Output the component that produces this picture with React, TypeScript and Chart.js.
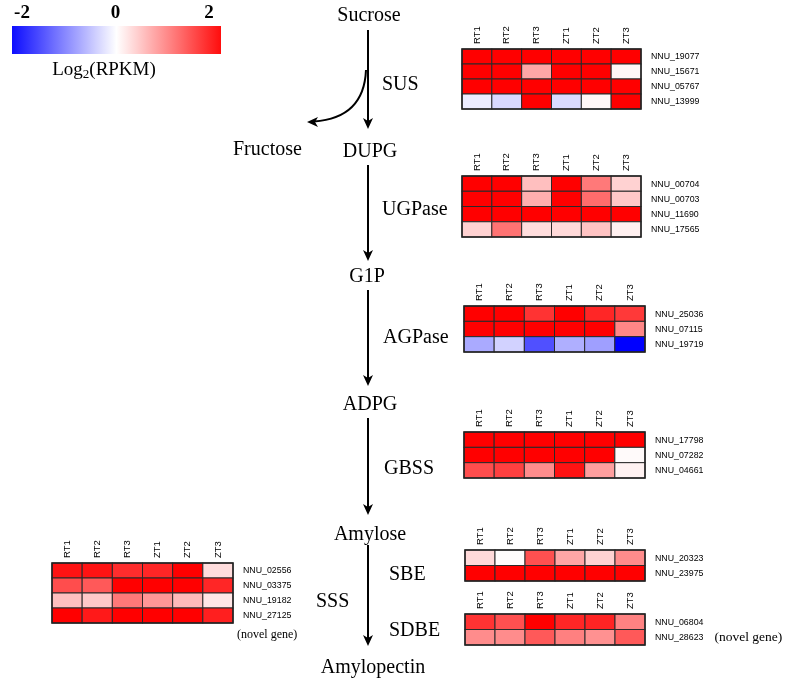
import React, { useEffect, useRef } from 'react';
import { Chart, registerables } from 'chart.js';
Chart.register(...registerables);

// ---------- data ----------
const SAMPLES = ['RT1', 'RT2', 'RT3', 'ZT1', 'ZT2', 'ZT3'];

const SUS_GENES = ['NNU_19077', 'NNU_15671', 'NNU_05767', 'NNU_13999'];
const SUS_VALUES = [
  [2.6, 2.5, 2.4, 2.6, 2.5, 2.3],
  [2.4, 2.5, 0.7, 2.4, 2.3, 0.06],
  [2.5, 2.4, 2.3, 2.4, 2.4, 2.2],
  [-0.15, -0.3, 2.2, -0.28, 0.06, 2.3],
];

const UGP_GENES = ['NNU_00704', 'NNU_00703', 'NNU_11690', 'NNU_17565'];
const UGP_VALUES = [
  [2.4, 2.3, 0.5, 2.3, 1.05, 0.35],
  [2.3, 2.3, 0.63, 2.3, 1.15, 0.43],
  [2.6, 2.5, 2.4, 2.5, 2.4, 2.3],
  [0.35, 1.1, 0.27, 0.3, 0.47, 0.12],
];

const AGP_GENES = ['NNU_25036', 'NNU_07115', 'NNU_19719'];
const AGP_VALUES = [
  [2.3, 2.2, 1.6, 2.2, 1.7, 1.55],
  [2.4, 2.3, 2.1, 2.2, 2.1, 0.94],
  [-0.67, -0.35, -1.37, -0.63, -0.75, -2.1],
];

const GBSS_GENES = ['NNU_17798', 'NNU_07282', 'NNU_04661'];
const GBSS_VALUES = [
  [2.5, 2.4, 2.4, 2.4, 2.3, 2.2],
  [2.3, 2.2, 2.2, 2.2, 2.1, 0.04],
  [1.4, 1.5, 0.9, 1.85, 0.75, 0.1],
];

const SBE_GENES = ['NNU_20323', 'NNU_23975'];
const SBE_VALUES = [
  [0.3, 0.02, 1.37, 0.7, 0.35, 0.9],
  [2.3, 2.2, 2.1, 2.2, 2.2, 2.1],
];

const SDBE_GENES = ['NNU_06804', 'NNU_28623'];
const SDBE_VALUES = [
  [1.6, 1.37, 2.2, 1.7, 1.72, 0.98],
  [0.9, 0.9, 1.3, 1.0, 0.86, 1.3],
];

const SSS_GENES = ['NNU_02556', 'NNU_03375', 'NNU_19182', 'NNU_27125'];
const SSS_VALUES = [
  [1.85, 1.85, 1.65, 1.7, 2.2, 0.27],
  [1.4, 1.3, 2.1, 2.0, 2.1, 1.7],
  [0.5, 0.43, 1.06, 0.82, 0.55, 0.2],
  [2.1, 1.8, 2.0, 2.1, 2.0, 1.76],
];

const COLORBAR_TICKS = [-2, 0, 2];

// ---------- layout (figure units) ----------
const FIG_W = 787;
const FIG_H = 687;

const BLOCKS = [
  { genes: SUS_GENES, values: SUS_VALUES, x0: 462, x1: 641, y0: 49, y1: 109 },
  { genes: UGP_GENES, values: UGP_VALUES, x0: 462, x1: 641, y0: 176, y1: 237 },
  { genes: AGP_GENES, values: AGP_VALUES, x0: 464, x1: 645, y0: 306, y1: 352 },
  { genes: GBSS_GENES, values: GBSS_VALUES, x0: 464, x1: 645, y0: 432, y1: 478 },
  { genes: SBE_GENES, values: SBE_VALUES, x0: 465, x1: 645, y0: 550, y1: 581 },
  { genes: SDBE_GENES, values: SDBE_VALUES, x0: 465, x1: 645, y0: 614, y1: 645, novelRow: 1 },
  { genes: SSS_GENES, values: SSS_VALUES, x0: 52, x1: 233, y0: 563, y1: 623, novelBelow: true },
];

const PATH_X = 368;
const ARROWS = [
  [30, 129],
  [165, 261],
  [290, 386],
  [418, 515],
  [545, 646],
];

const PATH_TEXT = [
  { t: 'Sucrose', x: 369, y: 16, a: 'center' },
  { t: 'Fructose', x: 233, y: 150, a: 'left' },
  { t: 'DUPG', x: 370, y: 152, a: 'center' },
  { t: 'SUS', x: 382, y: 85, a: 'left' },
  { t: 'UGPase', x: 382, y: 210, a: 'left' },
  { t: 'G1P', x: 367, y: 277, a: 'center' },
  { t: 'AGPase', x: 383, y: 338, a: 'left' },
  { t: 'ADPG', x: 370, y: 405, a: 'center' },
  { t: 'GBSS', x: 384, y: 469, a: 'left' },
  { t: 'Amylose', x: 370, y: 535, a: 'center' },
  { t: 'SBE', x: 389, y: 575, a: 'left' },
  { t: 'SSS', x: 316, y: 602, a: 'left' },
  { t: 'SDBE', x: 389, y: 631, a: 'left' },
  { t: 'Amylopectin', x: 373, y: 668, a: 'center' },
];

const COLORBAR = { x0: 12, x1: 221, y0: 26, y1: 54, min: -2, max: 2 };

function heatColor(v: number): string {
  if (v >= 0) {
    const t = Math.min(v / 2, 1);
    const c = Math.round(255 * (1 - t));
    return `rgb(255,${c},${c})`;
  }
  const t = Math.min(-v / 2, 1);
  const c = Math.round(255 * (1 - t));
  return `rgb(${c},${c},255)`;
}

const SERIF = '"Liberation Serif", "Times New Roman", serif';
const SANS = '"Liberation Sans", Arial, sans-serif';

const figurePlugin = {
  id: 'figure',
  afterDraw(chart: any) {
    const ctx: CanvasRenderingContext2D = chart.ctx;
    const sx = chart.scales.x;
    const sy = chart.scales.y;
    const X = (v: number) => sx.getPixelForValue(v);
    const Y = (v: number) => sy.getPixelForValue(v);
    ctx.save();

    // colour bar
    const cb = COLORBAR;
    const grad = ctx.createLinearGradient(X(cb.x0), 0, X(cb.x1), 0);
    for (let i = 0; i <= 20; i++) {
      const v = cb.min + ((cb.max - cb.min) * i) / 20;
      grad.addColorStop(i / 20, heatColor(v * 0.95));
    }
    ctx.fillStyle = grad;
    ctx.fillRect(X(cb.x0), Y(cb.y0), X(cb.x1) - X(cb.x0), Y(cb.y1) - Y(cb.y0));
    ctx.fillStyle = '#000';
    ctx.font = `bold 19px ${SERIF}`;
    ctx.textBaseline = 'middle';
    ctx.textAlign = 'center';
    COLORBAR_TICKS.forEach((t) => {
      const frac = (t - cb.min) / (cb.max - cb.min);
      const px = X(cb.x0 + 10 + frac * (cb.x1 - cb.x0 - 22));
      ctx.fillText(String(t), px, Y(13));
    });
    // Log2(RPKM)
    ctx.font = `19px ${SERIF}`;
    ctx.textAlign = 'left';
    const p1 = 'Log';
    const p2 = '2';
    const p3 = '(RPKM)';
    const w1 = ctx.measureText(p1).width;
    const w3 = ctx.measureText(p3).width;
    ctx.font = `13px ${SERIF}`;
    const w2 = ctx.measureText(p2).width;
    const total = w1 + w2 + w3;
    let lx = X(104) - total / 2;
    ctx.font = `19px ${SERIF}`;
    ctx.fillText(p1, lx, Y(70));
    lx += w1;
    ctx.font = `13px ${SERIF}`;
    ctx.fillText(p2, lx, Y(75));
    lx += w2;
    ctx.font = `19px ${SERIF}`;
    ctx.fillText(p3, lx, Y(70));

    // pathway arrows
    ctx.strokeStyle = '#000';
    ctx.fillStyle = '#000';
    ctx.lineWidth = 2;
    const head = (tx: number, ty: number, dir: 'down' | 'left') => {
      ctx.beginPath();
      if (dir === 'down') {
        ctx.moveTo(tx, ty);
        ctx.lineTo(tx - 5, ty - 11);
        ctx.lineTo(tx, ty - 8);
        ctx.lineTo(tx + 5, ty - 11);
      } else {
        ctx.moveTo(tx, ty);
        ctx.lineTo(tx + 11, ty - 5);
        ctx.lineTo(tx + 8, ty);
        ctx.lineTo(tx + 11, ty + 5);
      }
      ctx.closePath();
      ctx.fill();
    };
    ARROWS.forEach(([a, b]) => {
      ctx.beginPath();
      ctx.moveTo(X(PATH_X), Y(a));
      ctx.lineTo(X(PATH_X), Y(b) - 6);
      ctx.stroke();
      head(X(PATH_X), Y(b), 'down');
    });
    // curved branch to Fructose
    ctx.beginPath();
    ctx.moveTo(X(366), Y(70));
    ctx.quadraticCurveTo(X(364), Y(118), X(314), Y(121.5));
    ctx.stroke();
    head(X(307), Y(122), 'left');

    // pathway text
    ctx.font = `20px ${SERIF}`;
    ctx.textBaseline = 'middle';
    PATH_TEXT.forEach((p) => {
      ctx.textAlign = p.a as CanvasTextAlign;
      ctx.fillText(p.t, X(p.x), Y(p.y));
    });

    // heatmaps
    BLOCKS.forEach((b: any) => {
      const nr = b.values.length;
      const nc = SAMPLES.length;
      const cw = (b.x1 - b.x0) / nc;
      const rh = (b.y1 - b.y0) / nr;
      for (let r = 0; r < nr; r++) {
        for (let c = 0; c < nc; c++) {
          const xa = X(b.x0 + c * cw);
          const xb = X(b.x0 + (c + 1) * cw);
          const ya = Y(b.y0 + r * rh);
          const yb = Y(b.y0 + (r + 1) * rh);
          ctx.fillStyle = heatColor(b.values[r][c]);
          ctx.fillRect(xa, ya, xb - xa, yb - ya);
          ctx.strokeStyle = '#2a2a2a';
          ctx.lineWidth = 1;
          ctx.strokeRect(xa, ya, xb - xa, yb - ya);
        }
      }
      ctx.lineWidth = 1.5;
      ctx.strokeStyle = '#222';
      ctx.strokeRect(X(b.x0), Y(b.y0), X(b.x1) - X(b.x0), Y(b.y1) - Y(b.y0));

      // column labels
      ctx.fillStyle = '#000';
      ctx.font = `9.5px ${SANS}`;
      ctx.textBaseline = 'middle';
      ctx.textAlign = 'left';
      SAMPLES.forEach((s, c) => {
        ctx.save();
        ctx.translate(X(b.x0 + (c + 0.5) * cw), Y(b.y0 - 5));
        ctx.rotate(-Math.PI / 2);
        ctx.fillText(s, 0, 0);
        ctx.restore();
      });
      // gene labels
      b.genes.forEach((g: string, r: number) => {
        const gy = Y(b.y0 + (r + 0.5) * rh) + 0.5;
        ctx.font = `8.8px ${SANS}`;
        ctx.fillStyle = '#000';
        ctx.fillText(g, X(b.x1 + 10), gy);
        if (b.novelRow === r) {
          const gw = ctx.measureText(g).width;
          ctx.font = `13.5px ${SERIF}`;
          ctx.fillText('(novel gene)', X(b.x1 + 10) + gw + 11, gy);
        }
      });
      if (b.novelBelow) {
        ctx.font = `12px ${SERIF}`;
        ctx.fillStyle = '#000';
        ctx.fillText('(novel gene)', X(b.x1 + 4), Y(b.y1 + 12));
      }
    });

    ctx.restore();
  },
};

export default function App() {
  const ref = useRef<HTMLCanvasElement | null>(null);
  useEffect(() => {
    document.body.style.margin = '0';
    const canvas = ref.current;
    if (!canvas) return;
    const chart = new Chart(canvas, {
      type: 'scatter',
      data: { datasets: [{ data: [], pointRadius: 0 }] },
      options: {
        animation: false,
        responsive: false,
        maintainAspectRatio: false,
        layout: { padding: 0 },
        plugins: { legend: { display: false }, tooltip: { enabled: false } },
        scales: {
          x: { type: 'linear', min: 0, max: FIG_W, display: false },
          y: { type: 'linear', min: 0, max: FIG_H, reverse: true, display: false },
        },
      },
      plugins: [figurePlugin],
    });
    return () => chart.destroy();
  }, []);
  return (
    <div style={{ width: FIG_W, height: FIG_H, background: '#fff' }}>
      <canvas ref={ref} width={FIG_W} height={FIG_H} style={{ display: 'block' }} />
    </div>
  );
}
